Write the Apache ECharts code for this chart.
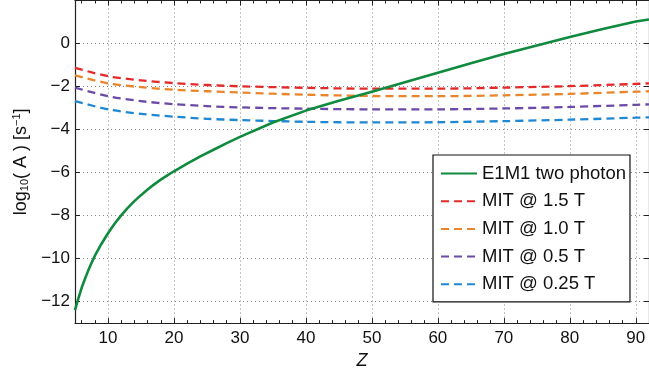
<!DOCTYPE html>
<html>
<head>
<meta charset="utf-8">
<script src="https://cdn.jsdelivr.net/npm/echarts@6/dist/echarts.min.js"></script>
<style>html,body{margin:0;padding:0;background:#fff;}#c{width:649px;height:375px;}</style>
</head>
<body>
<div id="c"></div>
<script>
// ---- data ----
const zGreen = [5,5.5,6,6.5,7,7.5,8,9,10,11,12,13,14,15,16,17,18,19,20,22,24,26,28,30,35,40,45,50,55,60,65,70,75,80,85,90,92];
const e1m1 = [-12.4,-11.86,-11.37,-10.95,-10.56,-10.21,-9.88,-9.32,-8.82,-8.38,-7.99,-7.64,-7.33,-7.05,-6.79,-6.55,-6.33,-6.13,-5.94,-5.59,-5.25,-4.94,-4.63,-4.34,-3.67,-3.12,-2.66,-2.24,-1.8,-1.36,-0.92,-0.49,-0.09,0.3,0.67,1.02,1.12];
const zMIT = [5,10,15,20,25,30,40,50,60,70,80,90,92];
const mit15 = [-1.13,-1.52,-1.71,-1.84,-1.93,-1.99,-2.06,-2.10,-2.10,-2.05,-1.98,-1.88,-1.85];
const mit10 = [-1.48,-1.85,-2.03,-2.15,-2.22,-2.28,-2.38,-2.44,-2.45,-2.41,-2.34,-2.24,-2.22];
const mit05 = [-2.05,-2.45,-2.68,-2.82,-2.91,-2.97,-3.03,-3.06,-3.06,-3.02,-2.95,-2.85,-2.83];
const mit025 = [-2.68,-3.06,-3.27,-3.40,-3.50,-3.56,-3.64,-3.67,-3.66,-3.61,-3.54,-3.45,-3.43];
const seriesNames = ['E1M1 two photon','MIT @ 1.5 T','MIT @ 1.0 T','MIT @ 0.5 T','MIT @ 0.25 T'];
const xTicks = [10,20,30,40,50,60,70,80,90];
const xMinorTicks = [6,8,12,14,16,18,22,24,26,28,32,34,36,38,42,44,46,48,52,54,56,58,62,64,66,68,72,74,76,78,82,84,86,88,92];
const yTicks = [-12,-10,-8,-6,-4,-2,0];

const colors = ['#0f8a3e','#e22a2a','#e9852a','#6a4aa6','#1f88d3'];
const FONT = 'Liberation Sans';
const axisColor = '#222';
const pair = (xs, ys) => xs.map((x,i)=>[x, ys[i]]);
const fmt = v => String(v).replace('-', '\u2212');

const chart = echarts.init(document.getElementById('c'), null, {renderer:'canvas'});
const gridStyle = {show:true, lineStyle:{color:'#888', type:[1,3], width:1}};
const baseX = {type:'value', min:5, max:92, gridIndex:0};
const baseY = {type:'value', min:-13, max:2, gridIndex:0};

const lineSeries = (name, data, color, dashed) => ({
  name, type:'line', data, smooth: dashed ? 0.3 : false, showSymbol:false, symbol:'none',
  xAxisIndex:0, yAxisIndex:0,
  lineStyle:{color, width: dashed ? 2.3 : 2.6, type: dashed ? [8,5] : 'solid', cap:'butt', join:'round'},
  itemStyle:{color}, z: dashed ? 3 : 4, animation:false
});

chart.setOption({
  animation:false,
  backgroundColor:'#fff',
  textStyle:{fontFamily:FONT},
  grid:{left:75, right:-3, top:0.5, bottom:51, containLabel:false},
  xAxis:[
    Object.assign({}, baseX, {position:'bottom',
      name:'Z', nameLocation:'middle', nameGap:26,
      nameTextStyle:{fontFamily:FONT, fontSize:18, fontStyle:'italic', color:'#111'},
      axisLine:{show:true, onZero:false, lineStyle:{color:axisColor, width:1.2}},
      axisTick:{show:true, inside:true, length:5, customValues:xTicks, lineStyle:{color:axisColor}},
      axisLabel:{show:true, customValues:xTicks, margin:7, fontSize:17, color:'#111', fontFamily:FONT, formatter:fmt},
      splitLine:gridStyle}),
    Object.assign({}, baseX, {position:'bottom',
      axisLine:{show:false, onZero:false},
      axisTick:{show:true, inside:true, length:3, customValues:xMinorTicks, lineStyle:{color:axisColor}},
      axisLabel:{show:false}, splitLine:{show:false}}),
    Object.assign({}, baseX, {position:'top',
      axisLine:{show:true, onZero:false, lineStyle:{color:axisColor, width:1.2}},
      axisTick:{show:true, inside:true, length:5, customValues:xTicks, lineStyle:{color:axisColor}},
      axisLabel:{show:false}, splitLine:{show:false}}),
    Object.assign({}, baseX, {position:'top',
      axisLine:{show:false, onZero:false},
      axisTick:{show:true, inside:true, length:3, customValues:xMinorTicks, lineStyle:{color:axisColor}},
      axisLabel:{show:false}, splitLine:{show:false}})
  ],
  yAxis:[
    Object.assign({}, baseY, {position:'left',
      name:'{n|log}{s|10}{n|( A ) [s}{p|\u22121}{n|]}', nameLocation:'middle', nameGap:41, nameRotate:90,
      nameTextStyle:{color:'#111', rich:{
        n:{fontFamily:FONT, fontSize:18, color:'#111'},
        s:{fontFamily:FONT, fontSize:11, color:'#111', verticalAlign:'bottom', padding:[8,0,0,0]},
        p:{fontFamily:FONT, fontSize:11, color:'#111', verticalAlign:'top', padding:[0,0,8,0]}
      }},
      axisLine:{show:true, onZero:false, lineStyle:{color:axisColor, width:1.2}},
      axisTick:{show:true, inside:true, length:5, customValues:yTicks, lineStyle:{color:axisColor}},
      axisLabel:{show:true, customValues:yTicks, margin:5, fontSize:17, color:'#111', fontFamily:FONT, formatter:fmt},
      splitLine:gridStyle}),
    Object.assign({}, baseY, {position:'right',
      axisLine:{show:true, onZero:false, lineStyle:{color:axisColor, width:1.2}},
      axisTick:{show:true, inside:true, length:5, customValues:yTicks, lineStyle:{color:axisColor}},
      axisLabel:{show:false}, splitLine:{show:false}})
  ],
  legend:{
    left:433, top:155, orient:'vertical',
    data:seriesNames,
    backgroundColor:'#fff', borderColor:'#111', borderWidth:1.2, borderRadius:0,
    padding:[9,4,8,7], itemGap:8.7, itemWidth:36, itemHeight:14, itemTextGap:5,
    itemStyle:{opacity:0},
    textStyle:{fontFamily:FONT, fontSize:18.5, color:'#111'},
    selectedMode:false
  },
  series:[
    lineSeries(seriesNames[0], pair(zGreen, e1m1), colors[0], false),
    lineSeries(seriesNames[1], pair(zMIT, mit15), colors[1], true),
    lineSeries(seriesNames[2], pair(zMIT, mit10), colors[2], true),
    lineSeries(seriesNames[3], pair(zMIT, mit05), colors[3], true),
    lineSeries(seriesNames[4], pair(zMIT, mit025), colors[4], true)
  ]
});
</script>
</body>
</html>
